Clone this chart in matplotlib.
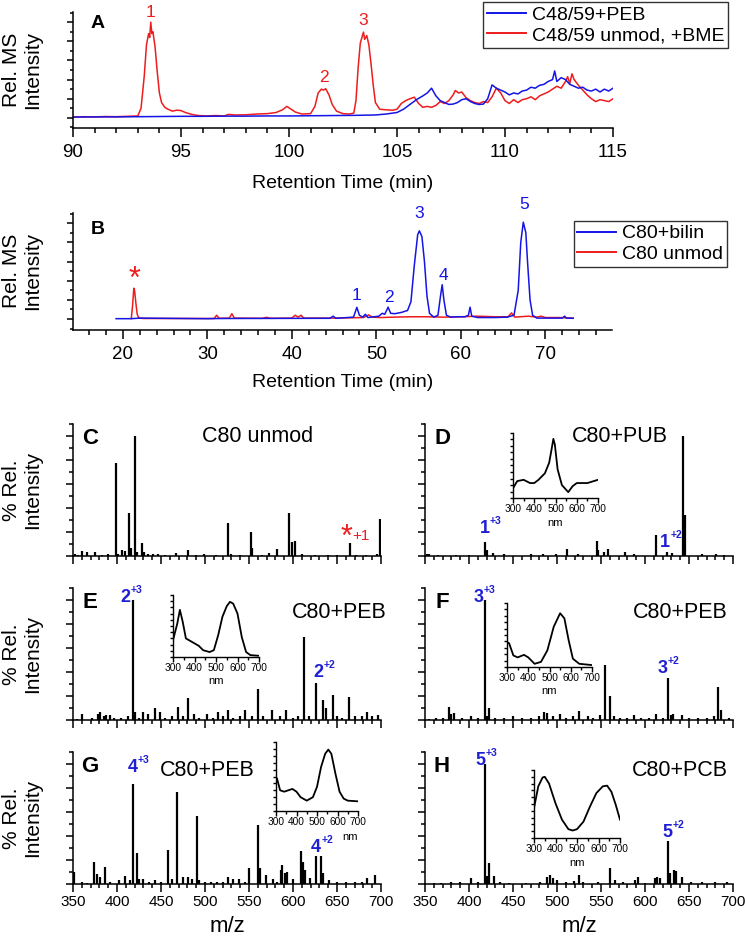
import matplotlib
matplotlib.use("Agg")
import matplotlib.pyplot as plt
from matplotlib.ticker import MultipleLocator

plt.rcParams["font.family"] = ["Liberation Sans", "DejaVu Sans"]

# ---------------- data ----------------
# Panel A chromatograms (retention time in min, relative MS intensity)
t_red_A = [
    90.0, 90.5, 91.0, 91.5, 92.0, 92.5, 93.0, 93.15, 93.3, 93.4,
    93.5, 93.55, 93.6, 93.65, 93.7, 93.8, 93.9, 94.0, 94.1, 94.25,
    94.4, 94.6, 94.8, 95.0, 95.2, 95.5, 95.8, 96.2, 96.6, 97.0,
    97.2, 97.5, 98.0, 98.5, 99.0, 99.4, 99.7, 99.9, 100.1, 100.3,
    100.6, 101.0, 101.2, 101.35, 101.5, 101.6, 101.7, 101.85, 102.0, 102.2,
    102.5, 102.8, 103.0, 103.1, 103.2, 103.3, 103.4, 103.45, 103.5, 103.6,
    103.7, 103.8, 103.9, 104.0, 104.2, 104.5, 104.8, 105.0, 105.2, 105.4,
    105.6, 105.8, 106.0, 106.2, 106.4, 106.6, 106.8, 107.0, 107.2, 107.4,
    107.6, 107.7, 107.85, 108.0, 108.2, 108.4, 108.6, 108.8, 109.0, 109.2,
    109.4, 109.6, 109.8, 110.0, 110.2, 110.4, 110.6, 110.8, 111.0, 111.2,
    111.4, 111.6, 111.8, 112.0, 112.2, 112.4, 112.6, 112.8, 112.9, 113.0,
    113.1, 113.2, 113.4, 113.6, 113.8, 114.0, 114.2, 114.4, 114.6, 114.8,
    115.0]
y_red_A = [
    0.04, 0.06, 0.05, 0.07, 0.06, 0.08, 0.10, 0.50, 2.20, 3.80,
    4.40, 4.20, 5.00, 4.40, 4.50, 3.70, 2.40, 1.30, 0.80, 0.55,
    0.45, 0.35, 0.40, 0.38, 0.28, 0.18, 0.12, 0.10, 0.12, 0.10,
    0.18, 0.15, 0.16, 0.20, 0.22, 0.28, 0.42, 0.60, 0.45, 0.30,
    0.20, 0.22, 0.60, 1.30, 1.50, 1.45, 1.52, 1.20, 0.70, 0.35,
    0.22, 0.20, 0.25, 0.90, 2.60, 3.90, 4.30, 4.48, 4.10, 4.30,
    3.80, 2.80, 1.70, 0.80, 0.45, 0.42, 0.40, 0.45, 0.75, 0.90,
    1.00, 1.08, 0.75, 0.55, 0.60, 0.55, 0.65, 0.85, 0.75, 0.90,
    1.20, 1.43, 1.30, 1.35, 1.05, 0.90, 0.80, 0.75, 0.85, 0.80,
    1.10, 1.55, 1.30, 0.90, 0.75, 0.95, 0.80, 0.95, 1.00, 1.10,
    0.95, 1.15, 1.25, 1.35, 1.50, 1.65, 1.55, 1.90, 2.15, 1.80,
    2.30, 2.00, 1.70, 1.45, 1.20, 1.00, 0.85, 0.95, 0.90, 0.85,
    1.00]
t_blue_A = [
    90.0, 91.0, 92.0, 93.0, 94.0, 95.0, 96.0, 97.0, 98.0, 99.0,
    100.0, 101.0, 102.0, 103.0, 104.0, 104.5, 105.0, 105.3, 105.6, 105.9,
    106.2, 106.4, 106.6, 106.8, 107.0, 107.2, 107.4, 107.6, 107.8, 108.0,
    108.2, 108.4, 108.6, 108.8, 109.0, 109.2, 109.4, 109.6, 109.8, 110.0,
    110.2, 110.4, 110.6, 110.8, 111.0, 111.2, 111.4, 111.6, 111.8, 112.0,
    112.2, 112.3, 112.4, 112.6, 112.8, 113.0, 113.2, 113.4, 113.6, 113.8,
    114.0, 114.2, 114.4, 114.6, 114.8, 115.0]
y_blue_A = [
    0.04, 0.05, 0.05, 0.06, 0.07, 0.08, 0.08, 0.09, 0.09, 0.10,
    0.10, 0.11, 0.12, 0.13, 0.15, 0.20, 0.28, 0.45, 0.70, 0.95,
    1.15, 1.30, 1.55, 1.15, 0.90, 0.80, 0.70, 0.72, 0.80, 0.95,
    1.00, 0.85, 0.75, 0.70, 0.72, 1.00, 1.72, 1.55, 1.45, 1.35,
    1.20, 1.30, 1.25, 1.40, 1.45, 1.60, 1.55, 1.70, 1.75, 1.90,
    2.00, 2.45, 1.90, 2.10, 2.00, 1.75, 1.65, 1.55, 1.60, 1.45,
    1.40, 1.50, 1.35, 1.50, 1.40, 1.55]
peaks_A = [(93.6, 5.52, "1"), (101.6, 2.1, "2"), (103.45, 5.09, "3")]

# Panel B chromatograms
t_red_B = [
    21.0, 21.15, 21.3, 21.4, 21.55, 21.7, 21.9, 22.5, 25.0, 30.8,
    31.1, 31.4, 32.6, 32.9, 33.2, 36.5, 37.0, 37.5, 40.0, 40.4,
    40.75, 41.1, 41.4, 45.0, 48.5, 49.1, 49.5, 50.5, 52.0, 54.0,
    56.0, 58.0, 60.0, 62.0, 64.0, 65.6, 66.0, 66.4, 67.0, 68.0,
    69.0, 69.5, 70.0, 71.5, 73.3]
y_red_B = [
    0.03, 0.70, 1.61, 1.45, 0.80, 0.25, 0.05, 0.03, 0.03, 0.03,
    0.20, 0.04, 0.05, 0.28, 0.05, 0.04, 0.09, 0.04, 0.05, 0.20,
    0.10, 0.20, 0.05, 0.05, 0.08, 0.22, 0.10, 0.08, 0.10, 0.12,
    0.12, 0.10, 0.12, 0.15, 0.12, 0.12, 0.32, 0.10, 0.12, 0.15,
    0.10, 0.15, 0.08, 0.08, 0.05]
t_blue_B = [
    19.2, 21.0, 22.0, 30.0, 31.5, 44.5, 44.9, 45.2, 47.3, 47.7,
    48.0, 48.4, 48.7, 49.0, 50.3, 50.7, 51.0, 51.4, 51.7, 52.2,
    53.0, 53.7, 54.1, 54.5, 54.9, 55.1, 55.4, 55.7, 56.0, 56.3,
    56.8, 57.3, 57.6, 57.8, 58.0, 58.3, 58.8, 59.5, 60.5, 60.9,
    61.1, 61.3, 62.0, 64.0, 65.5, 66.3, 66.8, 67.1, 67.4, 67.7,
    67.9, 68.2, 68.5, 69.0, 70.0, 72.0, 72.3, 72.5, 73.3]
y_blue_B = [
    0.02, 0.02, 0.05, 0.02, 0.03, 0.04, 0.15, 0.04, 0.10, 0.61,
    0.20, 0.10, 0.25, 0.08, 0.15, 0.30, 0.25, 0.62, 0.30, 0.28,
    0.35, 0.45, 0.90, 2.80, 4.40, 4.60, 4.30, 3.00, 1.20, 0.30,
    0.10, 0.20, 1.20, 1.79, 1.00, 0.20, 0.10, 0.12, 0.12, 0.20,
    0.62, 0.15, 0.08, 0.08, 0.10, 0.20, 1.50, 4.00, 5.05, 4.50,
    3.00, 1.00, 0.20, 0.05, 0.05, 0.05, 0.15, 0.05, 0.04]
peaks_B = [(47.7, 1.22, "1"), (51.5, 1.13, "2"), (55.1, 5.52, "3"),
           (57.9, 2.26, "4"), (67.5, 5.96, "5")]

# MS spectra (m/z, % relative intensity)
C_mz = [352, 356, 360.6, 366, 375, 383, 390, 398.5, 401, 406,
        409, 413.6, 415.5, 420.8, 423, 428.8, 430.7, 435.6, 441, 447,
        455, 467, 481, 490, 499, 512, 525.8, 530, 540, 551.9,
        553.8, 565, 573, 581.4, 595.5, 598.9, 601.9, 610, 625, 640,
        650, 664.8, 672, 683, 695, 699]
C_int = [1.5, 1, 4.4, 3.3, 3.3, 1, 1.7, 77.2, 2, 5,
         4, 35.6, 6.4, 100, 3, 10.5, 3.3, 1.7, 1.5, 1.5,
         1, 2.8, 5, 1, 1.7, 1, 27.8, 1.5, 1, 20,
         6.4, 1, 2.8, 5.6, 36.1, 12, 12.5, 1.7, 1, 1,
         1, 10.5, 1, 1, 2, 31]
D_mz = [352, 355, 365, 385, 400, 418, 420, 427, 440, 470,
        484, 499, 511, 524, 545, 547, 553, 558, 577, 588,
        612, 625, 631, 643.6, 645, 665, 681, 690]
D_int = [1.5, 2, 1, 1, 1, 11.4, 5, 2.8, 2, 1.5,
         1.5, 1.5, 5.8, 2, 12.8, 5, 3.6, 5.8, 3.6, 2,
         17.5, 3.3, 2.8, 100, 34, 1.5, 2, 1]
E_mz = [355, 359.8, 372, 378, 381, 385, 388, 392, 397, 405,
        413, 418.6, 420.5, 425, 430, 435.6, 443, 449, 455, 462,
        469.7, 475, 481, 487, 493, 502, 509, 515, 520, 525.8,
        532, 540, 546, 553, 560.6, 566, 575.8, 585, 592, 600,
        606, 612.5, 618, 626, 633.7, 637, 645, 650, 656, 663.6,
        670, 678, 683.7, 690, 697]
E_int = [1, 5, 2, 5, 7, 3, 4, 4, 2, 2,
         3.3, 100, 7, 2, 7, 5, 9.7, 7, 2, 3,
         11, 3, 18, 5, 2, 5, 2, 6.5, 3, 8.3,
         2, 3, 8, 3, 25.5, 3, 8.3, 3, 8.3, 2,
         3, 69.4, 3, 31, 17, 10, 21, 3, 2, 19.4,
         3, 3, 7, 3, 4]
F_mz = [355, 362, 370, 377, 380, 383, 392, 402, 410, 418,
        420.5, 423, 430, 440, 450, 460, 470, 480, 485, 489,
        495, 503, 510, 518, 525, 535, 541, 549, 554.5, 560,
        565, 572, 580, 587, 596, 604, 612, 620, 625.8, 629,
        632, 641.7, 650, 660, 670, 678, 683, 686, 695]
F_int = [1, 2, 2, 10.6, 5, 6, 2, 3, 2, 100,
         3, 9.7, 2, 2, 3.6, 2, 2, 3, 7, 6,
         3, 5, 2, 3, 7.8, 3, 2, 4.5, 45.8, 20,
         3, 1.5, 2, 4, 2, 1.5, 5, 2, 34.7, 4,
         5, 4, 2, 1.5, 2, 3, 27.8, 8, 1.5]
G_mz = [351, 360, 366, 374, 377.6, 381, 386.7, 392, 402.6, 409,
        414.8, 418.6, 422.4, 425, 429, 436, 443, 450, 457.6, 462,
        468.6, 475, 481, 485, 490.5, 493.6, 500, 507, 514, 520,
        525.8, 532, 539, 545, 550.4, 559.8, 562.5, 569, 577.7, 582,
        586.4, 588, 591, 593.6, 600, 608.7, 611.7, 613.6, 619, 626,
        631.8, 633.7, 641, 650, 660, 670, 678, 683.7, 693]
G_int = [10.3, 2, 1, 18, 8.3, 6, 14.4, 2, 3.6, 6.7,
         3, 83, 26, 4, 4, 1.5, 3, 1.5, 28.3, 4,
         77, 5.5, 6, 4.5, 56.7, 3, 2, 1.5, 1.5, 2,
         6, 4.5, 4, 2, 13.6, 49, 13, 7.5, 4, 2,
         12, 15.8, 9, 10.3, 4, 27.5, 18.6, 12, 5, 23.3,
         23.3, 9, 3, 2, 2, 2, 2, 5.3, 7.5]
H_mz = [360, 368, 380, 390, 402, 410, 418, 421, 423, 428.4,
        435, 446, 465, 480.7, 489, 492, 495, 499.6, 510, 519,
        525, 530, 547, 560, 566, 575, 588.6, 592.4, 600, 611,
        614, 616.5, 626.5, 628.4, 633, 635, 642, 652, 665, 680,
        692.8]
H_int = [1.2, 1.2, 1.5, 1.5, 4.7, 1.5, 100, 6.5, 17.8, 6.7,
         2, 1.2, 1.2, 2, 6, 7.5, 5, 3.3, 1.5, 2.8,
         7.5, 2, 2, 13.6, 3, 1.5, 3.3, 6, 1.2, 4.7,
         6, 4.7, 35.8, 8.9, 11.7, 11, 6, 2, 2, 2,
         2]

# UV-vis insets (nm, normalised absorbance)
D_nm = [300, 320, 350, 380, 400, 420, 450, 470, 480, 490, 497, 510, 530, 560, 580, 600, 650, 700]
D_abs = [0.15, 0.26, 0.28, 0.23, 0.23, 0.28, 0.38, 0.54, 0.72, 0.91, 0.82, 0.44, 0.20, 0.09, 0.18, 0.23, 0.23, 0.28]
E_nm = [300, 320, 332, 345, 360, 380, 400, 420, 440, 470, 490, 510, 530, 550, 565, 580, 600, 620, 640, 660, 700]
E_abs = [0.27, 0.54, 0.76, 0.57, 0.30, 0.26, 0.22, 0.18, 0.11, 0.08, 0.11, 0.35, 0.65, 0.82, 0.89, 0.86, 0.70, 0.32, 0.08, 0.03, 0.02]
F_nm = [300, 310, 330, 350, 380, 400, 430, 460, 490, 520, 550, 570, 590, 610, 640, 700]
F_abs = [0.39, 0.37, 0.18, 0.15, 0.19, 0.15, 0.05, 0.08, 0.26, 0.63, 0.84, 0.76, 0.42, 0.13, 0.05, 0.03]
G_nm = [300, 305, 320, 340, 360, 380, 400, 420, 450, 480, 500, 520, 540, 555, 570, 590, 610, 630, 650, 700]
G_abs = [0.49, 0.47, 0.30, 0.28, 0.30, 0.32, 0.28, 0.20, 0.15, 0.20, 0.35, 0.64, 0.83, 0.89, 0.83, 0.54, 0.28, 0.18, 0.15, 0.14]
H_nm = [300, 320, 340, 350, 370, 400, 430, 460, 480, 500, 530, 560, 590, 620, 640, 660, 680, 700]
H_abs = [0.44, 0.76, 0.89, 0.90, 0.80, 0.51, 0.27, 0.13, 0.11, 0.13, 0.24, 0.46, 0.66, 0.76, 0.77, 0.68, 0.49, 0.27]

RED = "#ee1c1c"
BLUE = "#1414e6"
LBLUE = "#1f1fd2"

# ---------------- layout helpers (pixel boxes) ----------------
W, H = 745, 943
fig = plt.figure(figsize=(W / 100, H / 100), dpi=100)


def box(x0, y0, x1, y1):
    return [x0 / W, 1 - y1 / H, (x1 - x0) / W, (y1 - y0) / H]


def ftext(x, y, s, **kw):
    kw.setdefault("ha", "center")
    kw.setdefault("va", "center")
    fig.text(x / W, 1 - y / H, s, **kw)


def style(ax, xmaj, xmin, ymaj, ymin, xlab=True, xlen=(6.5, 3.6), ylen=(4.3, 2.5), lw=1.1, size=13.5, pad=5):
    for s in ("top", "right"):
        ax.spines[s].set_visible(False)
    for s in ("left", "bottom"):
        ax.spines[s].set_linewidth(lw)
    ax.xaxis.set_major_locator(MultipleLocator(xmaj))
    ax.xaxis.set_minor_locator(MultipleLocator(xmin))
    ax.yaxis.set_major_locator(MultipleLocator(ymaj))
    ax.yaxis.set_minor_locator(MultipleLocator(ymin))
    ax.tick_params(axis="x", which="major", direction="out", length=xlen[0], width=lw,
                   labelsize=size, pad=pad, labelbottom=xlab)
    ax.tick_params(axis="x", which="minor", direction="out", length=xlen[1], width=lw)
    ax.tick_params(axis="y", which="major", direction="out", length=ylen[0], width=lw, labelleft=False)
    ax.tick_params(axis="y", which="minor", direction="out", length=ylen[1], width=lw)
    ax.patch.set_alpha(0)


# ---------------- Panel A ----------------
axA = fig.add_axes(box(73, 12, 613, 128))
axA.plot(t_red_A, y_red_A, color=RED, lw=1.1)
axA.plot(t_blue_A, y_blue_A, color=BLUE, lw=1.1)
axA.set_xlim(90, 115)
axA.set_ylim(-0.53, 5.53)
style(axA, 5, 1, 1, 0.5)
for x, y, s in peaks_A:
    axA.text(x, y, s, color=RED, fontsize=12.5, ha="center", va="center")
axA.text(0.033, 0.9, "A", transform=axA.transAxes, fontsize=14, fontweight="bold", ha="left", va="center")
ftext(22, 70, "Rel. MS\nIntensity", rotation=90, fontsize=15, linespacing=1.15)
ftext(343, 184, "Retention Time (min)", fontsize=14)
hb = plt.Line2D([], [], color=BLUE, lw=1.4)
hr = plt.Line2D([], [], color=RED, lw=1.4)
legA = fig.legend([hb, hr], ["C48/59+PEB", "C48/59 unmod, +BME"], loc="upper right",
                  bbox_to_anchor=(728 / W, 1 - 2 / H), fontsize=14, frameon=True, fancybox=False,
                  edgecolor="black", borderpad=0.2, labelspacing=0.15, handlelength=2.0,
                  handletextpad=0.3, borderaxespad=0)
legA.get_frame().set_linewidth(1.0)

# ---------------- Panel B ----------------
axB = fig.add_axes(box(73, 213, 612, 330))
axB.plot(t_red_B, y_red_B, color=RED, lw=1.1)
axB.plot(t_blue_B, y_blue_B, color=BLUE, lw=1.1)
axB.set_xlim(14.1, 77.9)
axB.set_ylim(-0.57, 5.53)
style(axB, 10, 2, 1, 0.5)
for x, y, s in peaks_B:
    axB.text(x, y, s, color=BLUE, fontsize=12.5, ha="center", va="center")
axB.text(21.4, 2.05, "*", color=RED, fontsize=22, ha="center", va="center")
axB.text(0.033, 0.86, "B", transform=axB.transAxes, fontsize=14, fontweight="bold", ha="left", va="center")
ftext(22, 271, "Rel. MS\nIntensity", rotation=90, fontsize=15, linespacing=1.15)
ftext(343, 382, "Retention Time (min)", fontsize=14)
legB = fig.legend([hb, hr], ["C80+bilin", "C80 unmod"], loc="upper right",
                  bbox_to_anchor=(727 / W, 1 - 221 / H), fontsize=14, frameon=True, fancybox=False,
                  edgecolor="black", borderpad=0.2, labelspacing=0.15, handlelength=2.0,
                  handletextpad=0.3, borderaxespad=0)
legB.get_frame().set_linewidth(1.0)


# ---------------- MS panels ----------------
def ms_panel(px, mz, inten, letter, title, title_xy, xlab=False):
    ax = fig.add_axes(box(*px))
    ax.vlines(mz, 0, inten, color="black", lw=1.6)
    ax.set_xlim(350, 700)
    ax.set_ylim(0, 110)
    style(ax, 50, 10, 20, 10, xlab=xlab, xlen=(6, 3.2), ylen=(5, 3), size=11, pad=2)
    x0, y0 = px[0], px[1]
    ftext(x0 + 17, y0 + 14, letter, fontsize=16, fontweight="bold", ha="center")
    ftext(title_xy[0], title_xy[1], title, fontsize=15.5)
    return ax


def ion_label(ax, x, y, main, sup):
    ax.text(x, y, main, color=LBLUE, fontsize=13, fontweight="bold", ha="center", va="baseline")
    ax.annotate(sup, (x, y), xytext=(3.8, 6.5), textcoords="offset points", color=LBLUE,
                fontsize=7.5, fontweight="bold", ha="left", va="baseline")


def inset(px, nm, ab, nm_pos=0.5):
    ax = fig.add_axes(box(*px))
    ax.plot(nm, ab, color="black", lw=1.3)
    ax.set_xlim(300, 700)
    ax.set_ylim(0, 1)
    for s in ("top", "right"):
        ax.spines[s].set_visible(False)
    for s in ("left", "bottom"):
        ax.spines[s].set_linewidth(1.0)
    ax.set_xticks([300, 400, 500, 600, 700])
    ax.xaxis.set_minor_locator(MultipleLocator(50))
    ax.yaxis.set_major_locator(MultipleLocator(0.1))
    ax.tick_params(axis="x", which="major", direction="out", length=3.5, width=1, labelsize=7.3, pad=1)
    ax.tick_params(axis="x", which="minor", direction="out", length=2, width=1)
    ax.tick_params(axis="y", which="major", direction="out", length=2.2, width=1, labelleft=False)
    ax.set_xlabel("nm", fontsize=8, labelpad=0)
    ax.xaxis.set_label_coords(nm_pos, -0.3)
    ax.xaxis.label.set_va("top")
    ax.patch.set_alpha(0)
    return ax


axC = ms_panel((73, 424, 381, 556), C_mz, C_int, "C", "C80 unmod", (258, 437))
ftext(22, 490, "% Rel.\nIntensity", rotation=90, fontsize=15, linespacing=1.15)
axC.text(661, 15, "*", color=RED, fontsize=22, ha="center", va="center")
axC.text(667, 17, "+1", color=RED, fontsize=11, ha="left", va="center")

axD = ms_panel((425, 424, 733, 556), D_mz, D_int, "D", "C80+PUB", (620, 437))
ion_label(axD, 418, 19, "1", "+3")
ion_label(axD, 622.7, 7.5, "1", "+2")
inset((513, 433, 598, 498), D_nm, D_abs)

axE = ms_panel((73, 588, 381, 720), E_mz, E_int, "E", "C80+PEB", (339, 613))
ftext(22, 654, "% Rel.\nIntensity", rotation=90, fontsize=15, linespacing=1.15)
ion_label(axE, 410, 98, "2", "+3")
ion_label(axE, 628.6, 36, "2", "+2")
inset((173, 595, 259, 657), E_nm, E_abs)

axF = ms_panel((425, 588, 733, 720), F_mz, F_int, "F", "C80+PEB", (680, 613))
ion_label(axF, 411, 98, "3", "+3")
ion_label(axF, 620, 39, "3", "+2")
inset((507, 603, 592, 667), F_nm, F_abs)

axG = ms_panel((73, 752, 381, 884), G_mz, G_int, "G", "C80+PEB", (207, 770), xlab=True)
ftext(22, 818, "% Rel.\nIntensity", rotation=90, fontsize=15, linespacing=1.15)
ion_label(axG, 418, 93, "4", "+3")
ion_label(axG, 626, 27, "4", "+2")
inset((276, 742, 358, 811), G_nm, G_abs, nm_pos=0.9)
ftext(227, 926, "m/z", fontsize=16)

axH = ms_panel((425, 752, 733, 884), H_mz, H_int, "H", "C80+PCB", (680, 770), xlab=True)
ion_label(axH, 412.5, 99, "5", "+3")
ion_label(axH, 625, 39, "5", "+2")
inset((534, 770, 620, 838), H_nm, H_abs)
ftext(579, 926, "m/z", fontsize=16)

fig.savefig("out.png", dpi=100)
